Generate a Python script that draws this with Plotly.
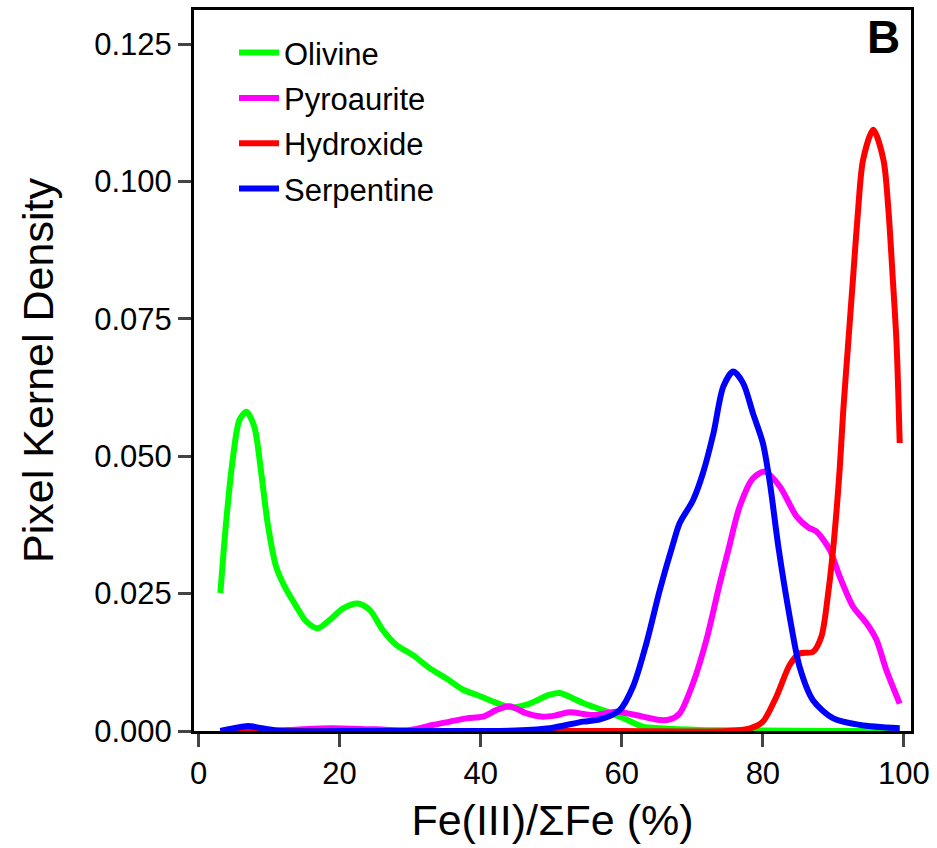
import plotly.graph_objects as go

# ---- data ----
olivine_x = [3.1, 3.9, 4.9, 5.8, 6.8, 7.9, 8.9, 9.8, 11.0, 12.2, 13.9, 15.3, 16.9, 18.6, 20.5,
             22.6, 24.3, 26.1, 28.0, 30.4, 32.8, 35.1, 37.5, 39.4, 41.3, 44.3, 46.5, 49.8,
             51.2, 54.5, 57.3, 60.1, 63.0, 65.4, 71.0, 80.0, 90.0, 99.4]
olivine_y = [0.0251, 0.0378, 0.0499, 0.0566, 0.0581, 0.0554, 0.0469, 0.0378, 0.0299, 0.0263,
             0.0226, 0.0199, 0.0187, 0.0202, 0.0223, 0.0232, 0.0220, 0.0184, 0.0157, 0.0138,
             0.0114, 0.0096, 0.0075, 0.0066, 0.0056, 0.0043, 0.0048, 0.0066, 0.0069, 0.0051,
             0.0038, 0.0024, 0.0008, 0.0005, 0.0002, 0.0001, 0.0, 0.0]

pyro_x = [3.1, 8.0, 13.0, 18.8, 25.0, 30.0, 33.2, 35.6, 38.0, 40.3, 42.2, 44.1, 46.5, 48.8,
          50.5, 52.6, 55.9, 59.2, 61.6, 65.4, 66.8, 68.2, 70.1, 72.0, 73.9, 75.1, 76.7, 78.6,
          80.3, 82.4, 84.8, 86.5, 87.6, 89.5, 90.9, 92.8, 94.7, 96.1, 97.5, 99.4]
pyro_y = [0.0, 0.0, 0.0002, 0.0005, 0.0003, 0.0002, 0.0011, 0.0017, 0.0023, 0.0026, 0.0038,
          0.0045, 0.0032, 0.0026, 0.0028, 0.0034, 0.0029, 0.0035, 0.0030, 0.0020, 0.0021,
          0.0032, 0.0087, 0.0166, 0.0269, 0.0329, 0.0408, 0.0460, 0.0472, 0.0445, 0.0390,
          0.0370, 0.0363, 0.0329, 0.0281, 0.0226, 0.0196, 0.0166, 0.0111, 0.0050]

hydro_x = [3.1, 30.0, 60.0, 75.0, 78.2, 80.0, 81.9, 83.8, 85.2, 87.1, 88.3, 89.3, 90.1, 90.9,
           91.4, 92.1, 92.8, 93.5, 94.2, 95.65, 97.1, 97.8, 98.4, 98.95, 99.4]
hydro_y = [0.0, 0.0, 0.0, 0.0, 0.0005, 0.0017, 0.0062, 0.0120, 0.0141, 0.0144, 0.0172, 0.0255,
           0.0350, 0.0478, 0.0584, 0.0706, 0.0827, 0.0948, 0.1039, 0.1094, 0.1039, 0.0948,
           0.0827, 0.0706, 0.0524]

serp_x = [3.1, 5.0, 7.0, 9.0, 12.0, 20.0, 30.0, 40.0, 45.0, 49.8, 54.5, 56.9, 59.7, 61.6, 63.5,
          65.4, 67.3, 68.2, 70.1, 71.5, 73.0, 74.4, 75.8, 77.2, 78.6, 80.0, 81.0, 82.2, 83.8,
          85.2, 87.1, 90.0, 93.8, 99.4]
serp_y = [0.0, 0.0005, 0.0009, 0.0005, 0.0, 0.0, 0.0, 0.0, 0.0001, 0.0005, 0.0017, 0.0021,
          0.0038, 0.0081, 0.0160, 0.0257, 0.0342, 0.0378, 0.0420, 0.0469, 0.0542, 0.0627,
          0.0654, 0.0633, 0.0578, 0.0524, 0.0451, 0.0335, 0.0208, 0.0117, 0.0056, 0.0023,
          0.0011, 0.0005]

series = [
    ("Olivine", olivine_x, olivine_y, "#00ff00"),
    ("Pyroaurite", pyro_x, pyro_y, "#ff00ff"),
    ("Hydroxide", hydro_x, hydro_y, "#ff0000"),
    ("Serpentine", serp_x, serp_y, "#0000ff"),
]

x_ticks = [0, 20, 40, 60, 80, 100]
y_ticks = [0.000, 0.025, 0.050, 0.075, 0.100, 0.125]
y_tick_labels = ["0.000", "0.025", "0.050", "0.075", "0.100", "0.125"]

FONT = "Liberation Sans, Arial, Helvetica, sans-serif"

fig = go.Figure()
for name, xs, ys, col in series:
    fig.add_trace(go.Scatter(
        x=xs, y=ys, mode="lines", name=name, legendgroup=name,
        line=dict(color=col, width=6, shape="spline", smoothing=0.8),
    ))

fig.update_layout(
    width=937, height=848,
    margin=dict(l=194, r=26, t=10, b=117),
    paper_bgcolor="white", plot_bgcolor="white",
    font=dict(family=FONT, color="black", size=31),
    showlegend=True,
    legend=dict(
        x=0.0558, y=0.9779, xanchor="left", yanchor="top",
        bgcolor="rgba(0,0,0,0)", borderwidth=0,
        font=dict(family=FONT, size=31, color="black"),
        traceorder="grouped", tracegroupgap=2, itemwidth=40,
    ),
    xaxis=dict(
        range=[-0.64, 101.0], tickvals=x_ticks, ticktext=[str(v) for v in x_ticks],
        ticks="outside", ticklen=13, tickwidth=2.5, tickcolor="#444",
        showline=True, linecolor="black", linewidth=3, mirror=True,
        showgrid=False, zeroline=False, automargin=False,
        tickfont=dict(size=31),
        title=dict(text="Fe(III)/ΣFe (%)", font=dict(size=43), standoff=15),
    ),
    yaxis=dict(
        range=[0, 0.1312], tickvals=y_ticks, ticktext=y_tick_labels,
        ticks="outside", ticklen=13, tickwidth=2.5, tickcolor="#444",
        showline=True, linecolor="black", linewidth=3, mirror=True,
        showgrid=False, zeroline=False, automargin=False,
        tickfont=dict(size=31),
        title=dict(text="Pixel Kernel Density", font=dict(size=43), standoff=28),
    ),
    annotations=[dict(
        text="<b>B</b>", x=0.962, y=0.963, xref="paper", yref="paper",
        xanchor="center", yanchor="middle", showarrow=False,
        font=dict(family=FONT, size=46, color="black"),
    )],
)

fig.write_html("out.html")
